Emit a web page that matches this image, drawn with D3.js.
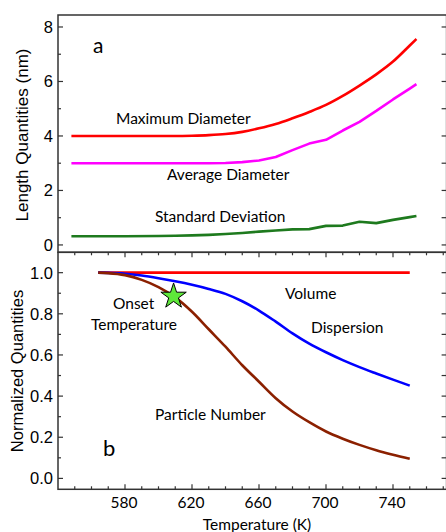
<!DOCTYPE html>
<html>
<head>
<meta charset="utf-8">
<script src="https://cdn.jsdelivr.net/npm/d3@7"></script>
<style>
  body { margin: 0; background: #fff; }
  svg { display: block; }
</style>
</head>
<body>
<div id="chart"></div>
<script>
// panel a: length quantities (nm)
const tempTop = [548, 560, 580, 600, 610, 620, 630, 640, 650, 660, 670, 680, 690, 700, 710, 720, 730, 740, 750, 754];
const maxDiameter = [4.0, 4.0, 4.0, 4.0, 4.0, 4.01, 4.03, 4.07, 4.15, 4.28, 4.44, 4.65, 4.88, 5.14, 5.47, 5.85, 6.26, 6.73, 7.32, 7.56];
const avgDiameter = [3.0, 3.0, 3.0, 3.0, 3.0, 3.0, 3.0, 3.01, 3.04, 3.1, 3.23, 3.48, 3.72, 3.86, 4.2, 4.52, 4.92, 5.34, 5.74, 5.9];
const stdDeviation = [0.32, 0.32, 0.32, 0.33, 0.34, 0.35, 0.37, 0.4, 0.44, 0.49, 0.53, 0.57, 0.58, 0.7, 0.71, 0.85, 0.8, 0.92, 1.02, 1.06];

// panel b: normalized quantities
const tempBottom = [564, 570, 580, 590, 600, 610, 620, 630, 640, 650, 660, 670, 680, 690, 700, 710, 720, 730, 740, 750];
const volume = [1, 1, 1, 1, 1, 1, 1, 1, 1, 1, 1, 1, 1, 1, 1, 1, 1, 1, 1, 1];
const dispersion = [1.0, 0.999, 0.995, 0.986, 0.973, 0.958, 0.941, 0.921, 0.897, 0.861, 0.816, 0.762, 0.705, 0.655, 0.613, 0.575, 0.541, 0.51, 0.48, 0.451];
const particleNumber = [1.0, 0.998, 0.988, 0.965, 0.93, 0.88, 0.81, 0.725, 0.64, 0.55, 0.47, 0.39, 0.325, 0.273, 0.228, 0.193, 0.163, 0.137, 0.115, 0.095];
const onset = [609, 0.885];

const xTicks = [580, 620, 660, 700, 740];
const yTicksTop = [0, 2, 4, 6, 8];
const yTicksBottom = [0, 0.2, 0.4, 0.6, 0.8, 1.0];

const W = 446, H = 532;
const svg = d3.select('#chart').append('svg').attr('width', W).attr('height', H);

const x = d3.scaleLinear().domain([540, 772]).range([58, 446.6]);
const yTop = d3.scaleLinear().domain([-0.27, 8.44]).range([252.3, 15]);
const yBot = d3.scaleLinear().domain([-0.053, 1.099]).range([489.3, 252.3]);

const frameColor = '#333';
const calibri = 'Lato, "Open Sans", sans-serif';
const arial = '"Liberation Sans", Arial, sans-serif';

// 画坐标框和刻度
function frame(y, top, bottom, yMajor, yMinorStep, yFmt) {
  const g = svg.append('g');
  const x0 = x.range()[0], x1 = x.range()[1];
  g.append('rect').attr('x', x0).attr('y', top).attr('width', x1 - x0).attr('height', bottom - top)
    .attr('fill', 'none').attr('stroke', frameColor).attr('stroke-width', 1.5);

  // y ticks, left and right, inward
  const [d0, d1] = y.domain();
  const minor = d3.range(Math.ceil(d0 / yMinorStep) * yMinorStep, d1, yMinorStep).map(v => +v.toFixed(4));
  minor.forEach(v => {
    const isMajor = yMajor.some(m => Math.abs(m - v) < 1e-6);
    const len = isMajor ? 5 : 3;
    g.append('line').attr('x1', x0).attr('x2', x0 + len).attr('y1', y(v)).attr('y2', y(v))
      .attr('stroke', frameColor).attr('stroke-width', 1.2);
    g.append('line').attr('x1', x1).attr('x2', x1 - 5).attr('y1', y(v)).attr('y2', y(v))
      .attr('stroke', frameColor).attr('stroke-width', 1.2);
  });
  g.selectAll('text.ytick').data(yMajor).enter().append('text').attr('class', 'ytick')
    .attr('x', 53).attr('y', d => y(d)).attr('dy', '0.36em')
    .attr('text-anchor', 'end').style('font-family', arial).style('font-size', '16.5px')
    .text(yFmt);
  return g;
}

function xTickMarks(yPos, dir) {
  d3.range(550, 771, 10).forEach(t => {
    const isMajor = t % 40 === 20;
    const len = isMajor ? 5 : 3;
    svg.append('line').attr('x1', x(t)).attr('x2', x(t)).attr('y1', yPos).attr('y2', yPos + dir * len)
      .attr('stroke', frameColor).attr('stroke-width', 1.2);
  });
}

frame(yTop, 15, 252.3, yTicksTop, 1, d => d3.format('d')(d));
frame(yBot, 252.3, 489.3, yTicksBottom, 0.1, d => d3.format('.1f')(d));
xTickMarks(252.3, 1);
xTickMarks(489.3, -1);

svg.selectAll('text.xtick').data(xTicks).enter().append('text').attr('class', 'xtick')
  .attr('x', d => x(d) - 1).attr('y', 508).attr('text-anchor', 'middle')
  .style('font-family', calibri).style('font-size', '15.5px').text(d => d);

// axis titles
svg.append('text').attr('transform', 'translate(28,135) rotate(-90)').attr('text-anchor', 'middle')
  .style('font-family', arial).style('font-size', '17px').text('Length Quantities (nm)');
svg.append('text').attr('transform', 'translate(22.5,371) rotate(-90)').attr('text-anchor', 'middle')
  .style('font-family', arial).style('font-size', '16.5px').text('Normalized Quantities');
svg.append('text').attr('x', 257).attr('y', 530).attr('text-anchor', 'middle')
  .style('font-family', calibri).style('font-size', '15.5px').text('Temperature (K)');

// 曲线
const lineTop = (vals, curve) => d3.line().x((d, i) => x(tempTop[i])).y(d => yTop(d)).curve(curve)(vals);
const lineBot = (vals, curve) => d3.line().x((d, i) => x(tempBottom[i])).y(d => yBot(d)).curve(curve)(vals);

const series = [
  { d: lineTop(maxDiameter, d3.curveMonotoneX), color: '#ff0000' },
  { d: lineTop(avgDiameter, d3.curveLinear), color: '#ff00ff' },
  { d: lineTop(stdDeviation, d3.curveLinear), color: '#1e7a1e' },
  { d: lineBot(volume, d3.curveLinear), color: '#ff0000' },
  { d: lineBot(dispersion, d3.curveMonotoneX), color: '#0000ff' },
  { d: lineBot(particleNumber, d3.curveMonotoneX), color: '#8b2000' }
];
svg.append('g').selectAll('path').data(series).enter().append('path')
  .attr('d', d => d.d).attr('fill', 'none').attr('stroke', d => d.color)
  .attr('stroke-width', 2.6).attr('stroke-linejoin', 'round');

// onset star
svg.append('path')
  .attr('d', d3.symbol(d3.symbolStar, 200)())
  .attr('transform', 'translate(' + x(onset[0]) + ',' + yBot(onset[1]) + ')')
  .attr('fill', '#5ee83a').attr('stroke', '#000').attr('stroke-width', 1);

// annotations
const labels = [
  { t: 'a', x: 93, y: 53, s: 21 },
  { t: 'Maximum Diameter', x: 116, y: 124, s: 15.5 },
  { t: 'Average Diameter', x: 167, y: 180, s: 15.5 },
  { t: 'Standard Deviation', x: 155, y: 222, s: 15.5 },
  { t: 'Onset', x: 113, y: 309, s: 15.5 },
  { t: 'Temperature', x: 91, y: 330, s: 15.5 },
  { t: 'Volume', x: 285, y: 299, s: 15.5 },
  { t: 'Dispersion', x: 311, y: 333, s: 15.5 },
  { t: 'Particle Number', x: 155, y: 420, s: 15.5 },
  { t: 'b', x: 103, y: 456, s: 22 }
];
svg.selectAll('text.lab').data(labels).enter().append('text').attr('class', 'lab')
  .attr('x', d => d.x).attr('y', d => d.y)
  .style('font-family', calibri).style('font-size', d => d.s + 'px').text(d => d.t);
</script>
</body>
</html>
